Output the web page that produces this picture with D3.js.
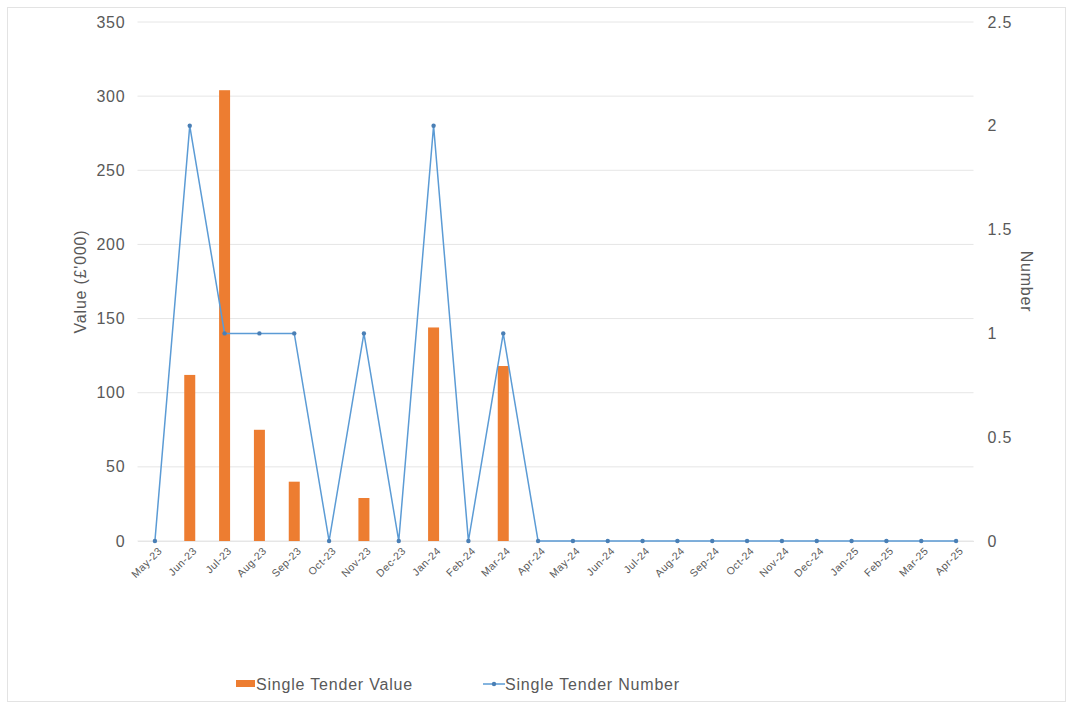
<!DOCTYPE html>
<html><head><meta charset="utf-8">
<script src="https://cdn.jsdelivr.net/npm/d3@7"></script>
<style>body{margin:0;background:#fff}svg{display:block;font-family:"Liberation Sans",Arial,sans-serif}</style>
</head><body><svg id="c" width="1073" height="706"></svg>
<script>
const months = ["May-23","Jun-23","Jul-23","Aug-23","Sep-23","Oct-23","Nov-23","Dec-23","Jan-24","Feb-24","Mar-24","Apr-24","May-24","Jun-24","Jul-24","Aug-24","Sep-24","Oct-24","Nov-24","Dec-24","Jan-25","Feb-25","Mar-25","Apr-25"];
const tenderValue = [0,112,304,75,40,0,29,0,144,0,118,0,0,0,0,0,0,0,0,0,0,0,0,0];
const tenderNumber = [0,2,1,1,1,0,1,0,2,0,1,0,0,0,0,0,0,0,0,0,0,0,0,0];
const leftTicks = [0,50,100,150,200,250,300,350];
const rightTicks = [0,0.5,1,1.5,2,2.5];

const svg = d3.select("#c");
const L=137.5, R=973.5, T=22, B=541;
const FS = 16, LS = "0.8px", TXT = "#595959";
svg.append("rect").attr("x",7.5).attr("y",7.5).attr("width",1058).attr("height",694).attr("fill","none").attr("stroke","#e3e3e3");

const x = d3.scaleBand().domain(months).range([L,R]);
const yL = d3.scaleLinear().domain([0,350]).range([B,T]);
const yR = d3.scaleLinear().domain([0,2.5]).range([B,T]);

// gridlines
svg.append("g").selectAll("line").data(leftTicks).join("line")
  .attr("x1",L).attr("x2",R).attr("y1",d=>yL(d)).attr("y2",d=>yL(d))
  .attr("stroke","#e6e6e6").attr("stroke-width",1);

// left axis
const ax = d3.axisLeft(yL).tickValues(leftTicks).tickSize(0).tickPadding(12);
svg.append("g").attr("transform",`translate(${L},0)`).call(ax)
  .call(g=>g.select(".domain").remove())
  .selectAll("text").attr("font-size",FS).attr("letter-spacing",LS).attr("fill",TXT).attr("font-family","Liberation Sans,Arial,sans-serif");
const axR = d3.axisRight(yR).tickValues(rightTicks).tickFormat(d3.format("~g")).tickSize(0).tickPadding(14);
svg.append("g").attr("transform",`translate(${R},0)`).call(axR)
  .call(g=>g.select(".domain").remove())
  .selectAll("text").attr("font-size",FS).attr("letter-spacing",LS).attr("fill",TXT).attr("font-family","Liberation Sans,Arial,sans-serif");

// x axis
const axB = d3.axisBottom(x).tickSize(0).tickPadding(7);
svg.append("g").attr("transform",`translate(0,${B})`).call(axB)
  .call(g=>g.select(".domain").attr("stroke","#e6e6e6"))
  .selectAll("text").attr("font-size",10.5).attr("letter-spacing","0.5px").attr("fill",TXT)
  .attr("font-family","Liberation Sans,Arial,sans-serif")
  .attr("text-anchor","end").attr("dx","-2").attr("dy","6")
  .attr("transform","rotate(-45)");

// axis titles
svg.append("text").attr("transform",`translate(86,${(T+B)/2}) rotate(-90)`).attr("text-anchor","middle")
  .attr("font-size",FS).attr("letter-spacing",LS).attr("fill",TXT).text("Value (£'000)");
svg.append("text").attr("transform",`translate(1021,${(T+B)/2}) rotate(90)`).attr("text-anchor","middle")
  .attr("font-size",FS).attr("letter-spacing",LS).attr("fill",TXT).text("Number");

// bars
const bw = 11;
svg.append("g").selectAll("rect").data(months).join("rect")
  .attr("x",d=>x(d)+x.bandwidth()/2-bw/2).attr("width",bw)
  .attr("y",(d,i)=>yL(tenderValue[i])).attr("height",(d,i)=>B-yL(tenderValue[i]))
  .attr("fill","#ED7D31");

// line
const line = d3.line().x((d,i)=>x(months[i])+x.bandwidth()/2).y(d=>yR(d));
svg.append("path").datum(tenderNumber).attr("d",line).attr("fill","none")
  .attr("stroke","#5B9BD5").attr("stroke-width",1.5);
svg.append("g").selectAll("circle").data(tenderNumber).join("circle")
  .attr("cx",(d,i)=>x(months[i])+x.bandwidth()/2).attr("cy",d=>yR(d)).attr("r",2.2)
  .attr("fill","#4a7fb5");

// legend
const lg = svg.append("g");
lg.append("rect").attr("x",236).attr("y",680).attr("width",19).attr("height",7).attr("fill","#ED7D31");
lg.append("text").attr("x",256).attr("y",690).attr("font-size",FS).attr("letter-spacing",LS).attr("fill",TXT).text("Single Tender Value");
lg.append("line").attr("x1",483).attr("x2",505).attr("y1",684).attr("y2",684).attr("stroke","#5B9BD5").attr("stroke-width",1.5);
lg.append("circle").attr("cx",494).attr("cy",684).attr("r",2.2).attr("fill","#4a7fb5");
lg.append("text").attr("x",505).attr("y",690).attr("font-size",FS).attr("letter-spacing",LS).attr("fill",TXT).text("Single Tender Number");
</script></body></html>
